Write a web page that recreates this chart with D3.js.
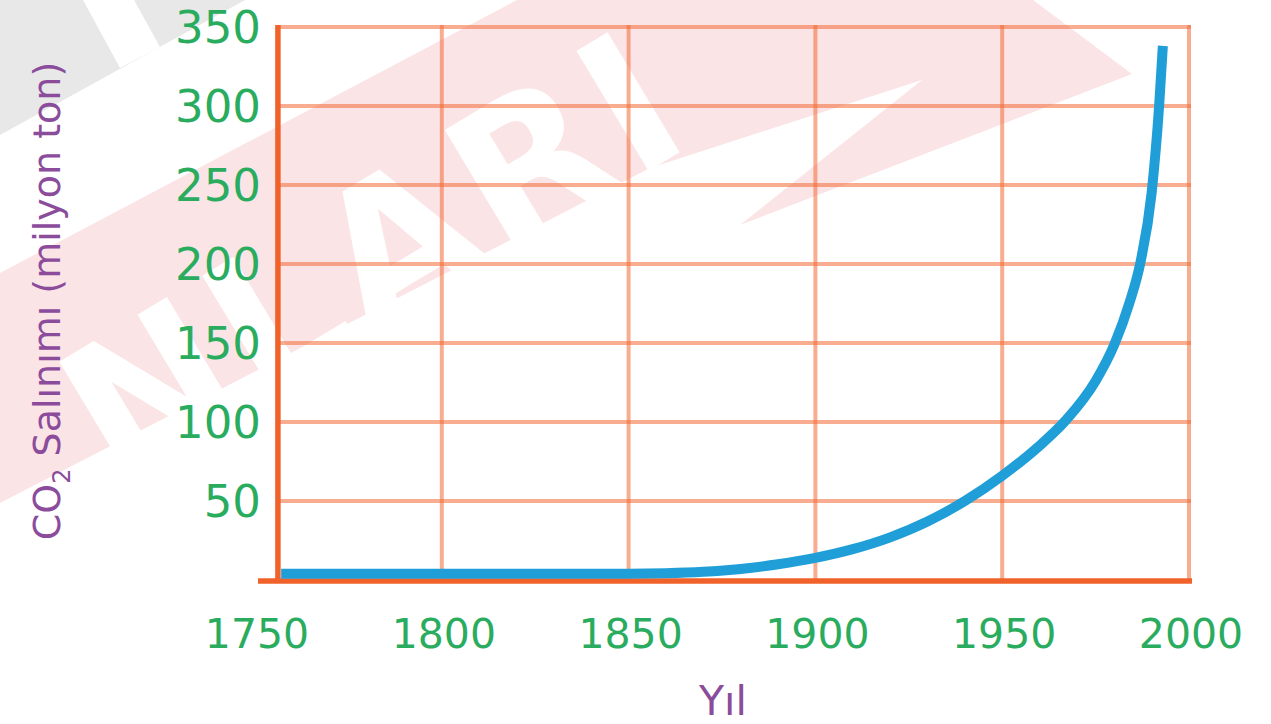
<!DOCTYPE html>
<html>
<head>
<meta charset="utf-8">
<script src="https://cdn.jsdelivr.net/npm/d3@7"></script>
<style>
  body { margin: 0; background: #fff; }
</style>
</head>
<body>
<script>
// data
const years     = [1757, 1800, 1850, 1860, 1870, 1880, 1890, 1900, 1910, 1920, 1930, 1940, 1950, 1960, 1967, 1975, 1980, 1984, 1987, 1990, 1992, 1993];
const emissions = [4, 4, 4, 4.3, 5.2, 7, 10, 14, 19.5, 27, 37, 50, 66, 85, 101, 126, 149, 175, 201, 245, 300, 338];
const xTicks = [1750, 1800, 1850, 1900, 1950, 2000];
const yTicks = [50, 100, 150, 200, 250, 300, 350];
const axisStartYear = 1756;

const width = 1271, height = 724;
const green = "#2aac5f", purple = "#8b4c9c", orange = "#f0622a", blue = "#1f9ed8";

const svg = d3.select("body").append("svg")
  .attr("width", width)
  .attr("height", height);

const x = d3.scaleLinear().domain([1750, 2000]).range([255, 1189]);
const y = d3.scaleLinear().domain([0, 350]).range([580, 27]);

// watermark in the background
const wm = svg.append("g");
wm.append("polygon")
  .attr("points", "0,0 245,0 0,135")
  .attr("fill", "#e8e8e8");
wm.append("polygon")
  .attr("points", "83,0 134,0 160,47 120,68")
  .attr("fill", "#fff");
wm.append("polygon")
  .attr("points", "0,273 517,0 1033,0 1132,74 740,225 922,80 650,168 0,503")
  .attr("fill", "#fbe4e6");
wm.append("text")
  .attr("transform", "translate(700,140) rotate(-31)")
  .attr("text-anchor", "end")
  .attr("font-family", "DejaVu Sans")
  .attr("font-weight", "bold")
  .attr("font-size", 192)
  .attr("letter-spacing", 6)
  .attr("fill", "#fff")
  .text("NLARI");

// grid
const grid = svg.append("g")
  .attr("stroke", "#f26a35")
  .attr("stroke-opacity", 0.55)
  .attr("stroke-width", 4);

grid.selectAll(".hgrid")
  .data(yTicks)
  .enter()
  .append("line")
  .attr("x1", x(axisStartYear))
  .attr("x2", x(2000) + 2)
  .attr("y1", d => y(d))
  .attr("y2", d => y(d));

grid.selectAll(".vgrid")
  .data(xTicks.slice(1))
  .enter()
  .append("line")
  .attr("x1", d => x(d))
  .attr("x2", d => x(d))
  .attr("y1", y(350) - 2)
  .attr("y2", y(0));

// axes
svg.append("line")
  .attr("x1", x(1750) + 3)
  .attr("x2", x(2000) + 3)
  .attr("y1", y(0) + 1)
  .attr("y2", y(0) + 1)
  .attr("stroke", orange)
  .attr("stroke-width", 5.5);

svg.append("line")
  .attr("x1", x(axisStartYear) + 0.5)
  .attr("x2", x(axisStartYear) + 0.5)
  .attr("y1", y(350) - 2)
  .attr("y2", y(0) + 3)
  .attr("stroke", orange)
  .attr("stroke-width", 5.5);

// emissions curve
const line = d3.line()
  .x((d, i) => x(years[i]))
  .y(d => y(d))
  .curve(d3.curveMonotoneX);

svg.append("path")
  .datum(emissions)
  .attr("d", line)
  .attr("fill", "none")
  .attr("stroke", blue)
  .attr("stroke-width", 10);

// tick labels
svg.selectAll(".ylabel")
  .data(yTicks)
  .enter()
  .append("text")
  .attr("x", 261)
  .attr("y", d => y(d) + 16)
  .attr("text-anchor", "end")
  .attr("font-family", "DejaVu Sans")
  .attr("font-size", 45)
  .attr("fill", green)
  .text(d => d);

svg.selectAll(".xlabel")
  .data(xTicks)
  .enter()
  .append("text")
  .attr("x", d => x(d) + 2)
  .attr("y", 648)
  .attr("text-anchor", "middle")
  .attr("font-family", "DejaVu Sans")
  .attr("font-size", 41)
  .attr("fill", green)
  .text(d => d);

// axis titles
svg.append("text")
  .attr("x", 723)
  .attr("y", 715)
  .attr("text-anchor", "middle")
  .attr("font-family", "DejaVu Sans")
  .attr("font-size", 41)
  .attr("fill", purple)
  .text("Yıl");

const ytitle = svg.append("text")
  .attr("transform", "translate(60,301) rotate(-90)")
  .attr("text-anchor", "middle")
  .attr("font-family", "DejaVu Sans")
  .attr("font-size", 38)
  .attr("fill", purple);
ytitle.append("tspan").text("CO");
ytitle.append("tspan").attr("font-size", 24).attr("dy", 10).text("2");
ytitle.append("tspan").attr("dy", -10).text(" Salınımı (milyon  ton)");
</script>
</body>
</html>
